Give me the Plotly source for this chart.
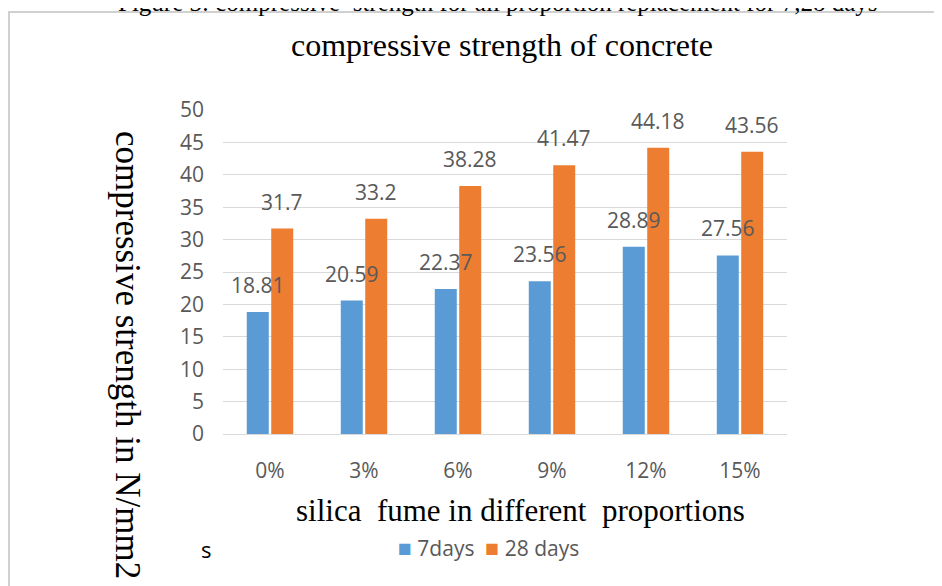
import plotly.graph_objects as go

categories = ["0%", "3%", "6%", "9%", "12%", "15%"]
days7 = [18.81, 20.59, 22.37, 23.56, 28.89, 27.56]
days28 = [31.7, 33.2, 38.28, 41.47, 44.18, 43.56]
series_names = ["7days", "28 days"]
y_ticks = [0, 5, 10, 15, 20, 25, 30, 35, 40, 45, 50]

BLUE = "#5b9bd5"
ORANGE = "#ed7d31"
GRAY = "#595959"

# page has an 8px body margin; work in screenshot pixels and compensate
OFF = 8
W, H = 942 - OFF, 586 - OFF
L, R, T, B = 223, 787, 110, 434  # plot area in screenshot pixels
PW, PH = R - L, B - T


def px(x):
    return (x - L) / PW


def py(y):
    return (B - y) / PH


fig = go.Figure()
fig.add_trace(go.Bar(x=categories, y=days7, name=series_names[0], marker_color=BLUE,
                     marker_line_width=0, showlegend=False))
fig.add_trace(go.Bar(x=categories, y=days28, name=series_names[1], marker_color=ORANGE,
                     marker_line_width=0, showlegend=False))

annotations = []
for vals, shift in ((days7, -12.25), (days28, 12.25)):
    for c, v in zip(categories, vals):
        annotations.append(dict(x=c, y=v, xref="x", yref="y", text=str(v), showarrow=False,
                                xshift=shift, yshift=27, yanchor="middle",
                                font=dict(family="Open Sans", size=21, color=GRAY)))

legend_text = (f"<span style='color:{BLUE};font-size:23px'>■</span> {series_names[0]}"
               f"  <span style='color:{ORANGE};font-size:23px'>■</span> {series_names[1]}")

annotations += [
    dict(x=px(498), y=py(18), xref="paper", yref="paper", yanchor="bottom",
         text="Figure 3: compressive  strength for all proportion replacement for 7,28 days",
         showarrow=False, font=dict(family="Liberation Serif", size=25, color="#000")),
    dict(x=px(502), y=py(45), xref="paper", yref="paper", yanchor="middle",
         text="compressive strength of concrete", showarrow=False,
         font=dict(family="Liberation Serif", size=32, color="#000")),
    dict(x=px(520), y=py(510), xref="paper", yref="paper", yanchor="middle",
         text="silica  fume in different  proportions", showarrow=False,
         font=dict(family="Liberation Serif", size=31, color="#000")),
    dict(x=px(128), y=py(355), xref="paper", yref="paper", yanchor="middle", xanchor="center",
         text="compressive strength in N/mm2", showarrow=False, textangle=90,
         font=dict(family="Liberation Serif", size=35, color="#000")),
    dict(x=px(206), y=py(549), xref="paper", yref="paper", yanchor="middle", xanchor="center",
         text="s", showarrow=False, font=dict(family="Open Sans", size=22, color="#000")),
    dict(x=px(488), y=py(547), xref="paper", yref="paper", yanchor="middle", xanchor="center",
         text=legend_text, showarrow=False,
         font=dict(family="Open Sans", size=21, color=GRAY)),
]

fig.update_layout(
    width=W, height=H,
    margin=dict(l=L - OFF, r=W - (R - OFF), t=T - OFF, b=H - (B - OFF), pad=0),
    paper_bgcolor="white", plot_bgcolor="white",
    barmode="group", bargap=0.48, bargroupgap=0.1,
    showlegend=False,
    annotations=annotations,
    shapes=[dict(type="rect", xref="paper", yref="paper",
                 x0=px(9), x1=px(960), y0=py(12), y1=py(620),
                 line=dict(color="#d0d0d0", width=2), fillcolor="rgba(0,0,0,0)", layer="below")],
    font=dict(family="Open Sans", color=GRAY),
)
fig.update_xaxes(showgrid=False, showline=False, ticks="", ticklabelstandoff=22,
                 tickfont=dict(family="Open Sans", size=21, color=GRAY))
fig.update_yaxes(range=[0, 50], tickvals=y_ticks, showgrid=True, gridcolor="#d9d9d9",
                 gridwidth=1, zeroline=True, zerolinecolor="#d9d9d9", zerolinewidth=1,
                 showline=False, ticks="", ticklabelstandoff=18,
                 tickfont=dict(family="Open Sans", size=21, color=GRAY))

fig.write_html("out.html")
